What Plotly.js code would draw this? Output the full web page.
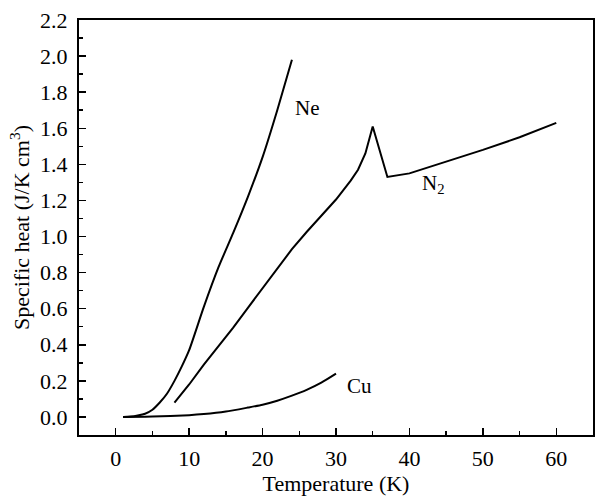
<!DOCTYPE html>
<html>
<head>
<meta charset="utf-8">
<script src="https://cdn.plot.ly/plotly-3.0.1.min.js"></script>
<style>html,body{margin:0;padding:0;background:#fff;}#chart{width:601px;height:502px;}</style>
</head>
<body>
<div id="chart"></div>
<script>
// Ne
const neT = [1, 2, 3, 4, 5, 6, 7, 8, 9, 10, 12, 14, 16, 18, 20, 22, 24];
const neC = [0.0, 0.002, 0.008, 0.018, 0.04, 0.08, 0.13, 0.2, 0.28, 0.37, 0.61, 0.83, 1.02, 1.22, 1.44, 1.70, 1.98];
// N2
const n2T = [8, 10, 12, 14, 16, 18, 20, 22, 24, 26, 28, 30, 32, 33, 34, 35, 37, 40, 45, 50, 55, 60];
const n2C = [0.08, 0.18, 0.29, 0.39, 0.495, 0.605, 0.715, 0.825, 0.93, 1.025, 1.115, 1.205, 1.31, 1.37, 1.46, 1.61, 1.33, 1.35, 1.415, 1.48, 1.55, 1.63];
// Cu
const cuT = [1, 5, 10, 12, 15, 18, 20, 22, 24, 26, 28, 30];
const cuC = [0.0, 0.002, 0.01, 0.016, 0.03, 0.052, 0.068, 0.09, 0.118, 0.15, 0.19, 0.24];
// labels
const labelText = ["Ne", "N<sub>2</sub>", "Cu"];
const labelX = [24.2, 41.4, 31.2];
const labelY = [1.71, 1.29, 0.17];

const FAM = "Liberation Serif";
const data = [
  {x: neT, y: neC, mode: "lines", line: {color: "#000", width: 2, shape: "spline", smoothing: 0.6}, name: "Ne"},
  {x: n2T, y: n2C, mode: "lines", line: {color: "#000", width: 2}, name: "N2"},
  {x: cuT, y: cuC, mode: "lines", line: {color: "#000", width: 2, shape: "spline", smoothing: 0.6}, name: "Cu"}
];

const annotations = labelText.map((t, i) => ({
  x: labelX[i], y: labelY[i], xref: "x", yref: "y", text: t, showarrow: false,
  xanchor: "left", yanchor: "middle", font: {family: FAM, size: 21, color: "#000"}
}));

const layout = {
  width: 601, height: 502,
  margin: {l: 79, r: 8, t: 20, b: 67},
  paper_bgcolor: "#fff", plot_bgcolor: "#fff",
  showlegend: false,
  font: {family: FAM, size: 21, color: "#000"},
  xaxis: {
    showgrid: false, zeroline: false, showline: true, linecolor: "#000", linewidth: 2,
    mirror: true, ticks: "inside", ticklen: 7, tickwidth: 1.5, tickcolor: "#000",
    tickfont: {family: FAM, size: 22, color: "#000"}, ticklabelstandoff: 3,
    range: [-5, 65], tickvals: [0, 10, 20, 30, 40, 50, 60],
    minor: {dtick: 5, tick0: 0, ticks: "inside", ticklen: 4, tickcolor: "#000", tickwidth: 1.5},
    title: {text: "Temperature (K)", font: {family: FAM, size: 22, color: "#000"}, standoff: 4}
  },
  yaxis: {
    showgrid: false, zeroline: false, showline: true, linecolor: "#000", linewidth: 2,
    mirror: true, ticks: "inside", ticklen: 7, tickwidth: 1.5, tickcolor: "#000",
    tickfont: {family: FAM, size: 22, color: "#000"}, ticklabelstandoff: 5,
    range: [-0.1, 2.2], tickvals: [0, 0.2, 0.4, 0.6, 0.8, 1.0, 1.2, 1.4, 1.6, 1.8, 2.0, 2.2],
    tickformat: ".1f",
    minor: {dtick: 0.1, tick0: 0, ticks: "inside", ticklen: 4, tickcolor: "#000", tickwidth: 1.5},
    title: {text: "Specific heat (J/K cm<sup>3</sup>)", font: {family: FAM, size: 22, color: "#000"}, standoff: 4}
  },
  annotations: annotations
};
Plotly.newPlot("chart", data, layout, {displayModeBar: false, staticPlot: true});
</script>
</body>
</html>
